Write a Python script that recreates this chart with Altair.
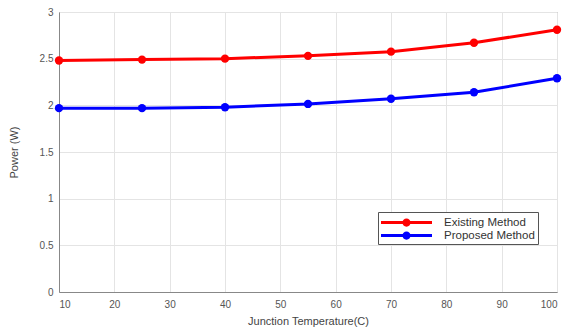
import altair as alt
import pandas as pd

temps = [10, 25, 40, 55, 70, 85, 100]
existing = [2.48, 2.49, 2.50, 2.53, 2.575, 2.67, 2.81]
proposed = [1.97, 1.97, 1.98, 2.015, 2.07, 2.14, 2.29]
series = ["Existing Method", "Proposed Method"]
colors = ["#ff0000", "#0000ff"]

rows = []
for t, v in zip(temps, existing):
    rows.append({"T": t, "P": v, "Method": series[0]})
for t, v in zip(temps, proposed):
    rows.append({"T": t, "P": v, "Method": series[1]})
df = pd.DataFrame(rows)

legend_path = ("M-1,-0.2L5.8,-0.2L5.8,0.2L-1,0.2Z "
               "M2.95,0A0.55,0.55 0 1,1 1.85,0A0.55,0.55 0 1,1 2.95,0Z")

color = alt.Color(
    "Method:N",
    scale=alt.Scale(domain=series, range=colors),
    legend=alt.Legend(
        title=None, orient="none", legendX=319, legendY=200,
        symbolType=legend_path, symbolSize=225, symbolStrokeWidth=0,
        labelFont="Liberation Sans", labelFontSize=11.5, labelColor="#333",
        strokeColor="#555", fillColor="white", padding=3,
        rowPadding=0, labelOffset=48, labelLimit=200,
    ),
)

x = alt.X("T:Q", scale=alt.Scale(domain=[10, 100], nice=False),
          axis=alt.Axis(values=list(range(10, 101, 10)), title="Junction Temperature(C)",
                        grid=True, ticks=False, labelPadding=7, titlePadding=6))
y = alt.Y("P:Q", scale=alt.Scale(domain=[0, 3], nice=False),
          axis=alt.Axis(values=[0, 0.5, 1, 1.5, 2, 2.5, 3], format="~g", title="Power (W)",
                        grid=True, ticks=False, labelPadding=6, titlePadding=20))

base = alt.Chart(df)
lines = base.mark_line(strokeWidth=3).encode(x=x, y=y, color=color)
pts = base.mark_point(filled=True, size=70, opacity=1).encode(x=x, y=y, color=color)

chart = alt.layer(lines, pts).properties(
    width=498, height=280,
    autosize=alt.AutoSizeParams(type="none"),
    padding={"left": 59, "top": 12, "right": 12, "bottom": 41},
).configure_view(stroke="#888", strokeWidth=1).configure_axis(
    labelFont="Liberation Sans", titleFont="Liberation Sans",
    labelFontSize=10, titleFontSize=11, labelColor="#555", titleColor="#444",
    titleFontWeight="normal", gridColor="#e4e4e4", domainColor="#888",
)

chart.save("out.html", embed_options={"renderer": "svg", "actions": False})
